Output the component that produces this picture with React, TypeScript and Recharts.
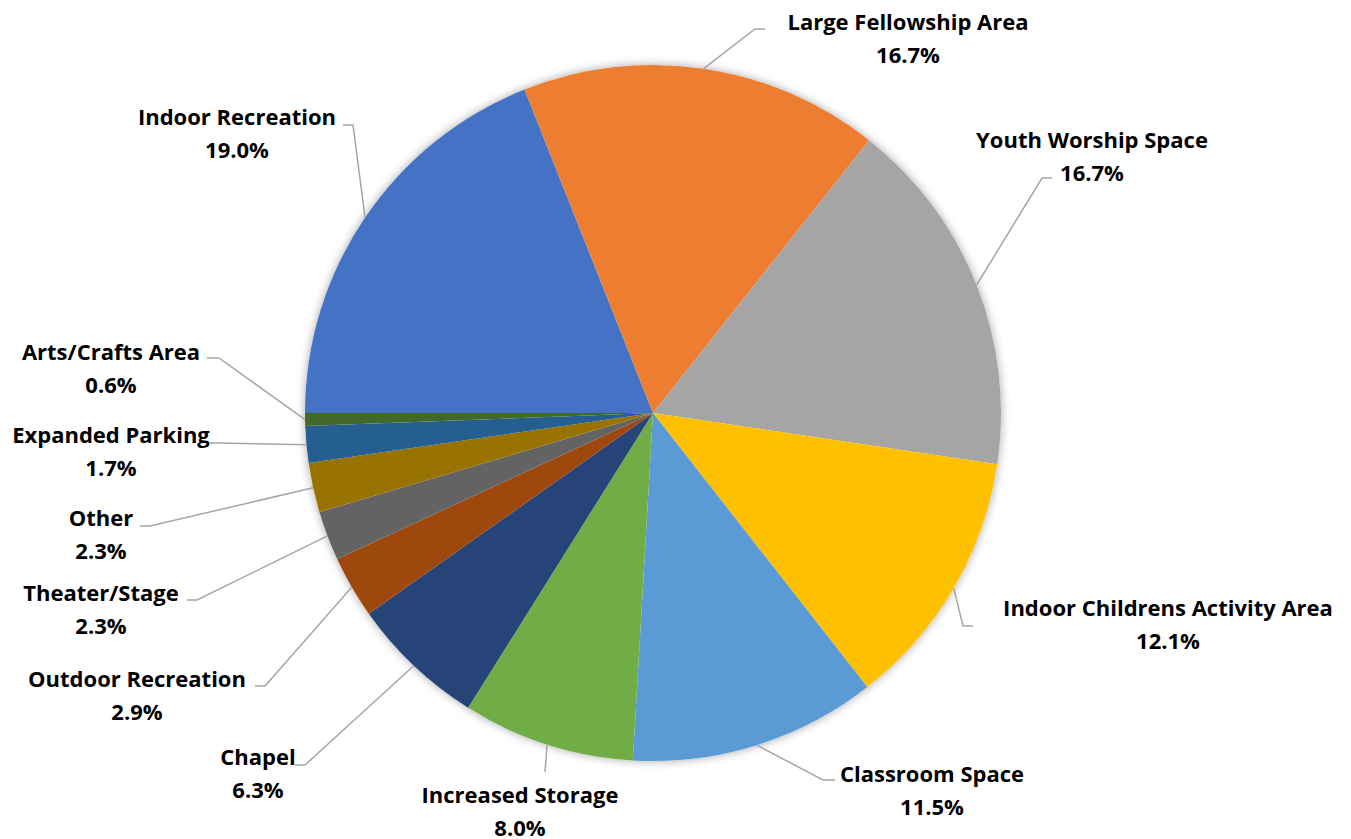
import { PieChart, Pie, Cell } from 'recharts'

const NAMES = [
  'Indoor Recreation',
  'Large Fellowship Area',
  'Youth Worship Space',
  'Indoor Childrens Activity Area',
  'Classroom Space',
  'Increased Storage',
  'Chapel',
  'Outdoor Recreation',
  'Theater/Stage',
  'Other',
  'Expanded Parking',
  'Arts/Crafts Area',
]

const SHARES = [19.0, 16.7, 16.7, 12.1, 11.5, 8.0, 6.3, 2.9, 2.3, 2.3, 1.7, 0.6]

const COLORS = [
  '#4472C4', '#ED7D31', '#A5A5A5', '#FFC000', '#5B9BD5', '#70AD47',
  '#264478', '#9E480E', '#636363', '#997300', '#255E91', '#43682B',
]

// label block centre (dx, dy) and leader end (ex, ey), relative to pie centre
const LABEL_LAYOUT = [
  { dx: -416, dy: -280, ex: -310, ey: -288, stub: 10 },
  { dx: 255, dy: -375, ex: 112, ey: -384, stub: 10 },
  { dx: 439, dy: -257, ex: 399, ey: -235, stub: 10 },
  { dx: 515, dy: 211, ex: 320, ey: 213, stub: 10 },
  { dx: 279, dy: 377, ex: 182, ey: 367, stub: 12 },
  { dx: -133, dy: 398, ex: -108, ey: 359, stub: 0 },
  { dx: -395, dy: 360, ex: -358, ey: 352, stub: 10 },
  { dx: -516, dy: 282, ex: -398, ey: 273, stub: 10 },
  { dx: -552, dy: 196, ex: -466, ey: 187, stub: 10 },
  { dx: -552, dy: 121, ex: -513, ey: 113, stub: 10 },
  { dx: -542, dy: 38, ex: -443, ey: 30, stub: 10 },
  { dx: -542, dy: -45, ex: -446, ey: -55, stub: 12 },
]

const data = NAMES.map((name, i) => ({ name, value: SHARES[i] }))
const RAD = Math.PI / 180

const renderLabel = (props: any) => {
  const { cx, cy, midAngle, outerRadius, index, value, name } = props
  const l = LABEL_LAYOUT[index]
  const sx = cx + outerRadius * Math.cos(-midAngle * RAD)
  const sy = cy + outerRadius * Math.sin(-midAngle * RAD)
  const ex = cx + l.ex
  const ey = cy + l.ey
  const dir = l.dx < l.ex ? 1 : -1
  const mx = ex + dir * l.stub
  const tx = cx + l.dx
  const ty = cy + l.dy
  return (
    <g key={`lbl-${index}`}>
      <polyline
        points={`${sx},${sy} ${mx},${ey} ${ex},${ey}`}
        fill="none"
        stroke="#A6A6A6"
        strokeWidth={1.5}
      />
      <text
        x={tx}
        textAnchor="middle"
        fill="#000"
        fontFamily="'Open Sans', Lato, sans-serif"
        fontWeight={700}
        fontSize={22}
      >
        <tspan x={tx} y={ty - 8.5}>{name}</tspan>
        <tspan x={tx} y={ty + 24.5}>{`${value.toFixed(1)}%`}</tspan>
      </text>
    </g>
  )
}

export default function App() {
  return (
    <div style={{ position: 'absolute', left: 0, top: 0, width: 1351, height: 839, background: '#fff' }}>
      <PieChart width={1351} height={839} margin={{ top: 0, right: 0, bottom: 0, left: 0 }}>
        <Pie
          data={[{ name: 'shadow', value: 1 }]}
          dataKey="value"
          cx={653}
          cy={413}
          outerRadius={348}
          startAngle={180}
          endAngle={-180}
          stroke="none"
          isAnimationActive={false}
        >
          <Cell fill="#fff" style={{ filter: 'drop-shadow(0 0 5px rgba(0,0,0,0.35))' }} />
        </Pie>
        <Pie
          data={data}
          dataKey="value"
          nameKey="name"
          cx={653}
          cy={413}
          outerRadius={348}
          startAngle={180}
          endAngle={-180}
          stroke="none"
          label={renderLabel}
          labelLine={false}
          isAnimationActive={false}
        >
          {data.map((d, i) => (
            <Cell key={d.name} fill={COLORS[i]} />
          ))}
        </Pie>
      </PieChart>
    </div>
  )
}
